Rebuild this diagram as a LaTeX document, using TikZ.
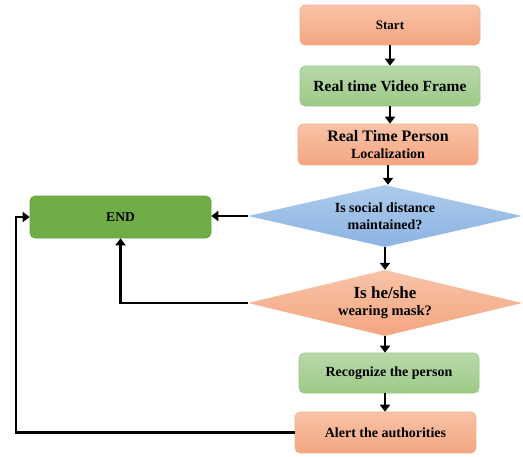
\documentclass[tikz,border=0pt]{standalone}
\usepackage{fontspec}
\setmainfont{Liberation Serif}
\usetikzlibrary{shapes.geometric,arrows.meta,calc}
\definecolor{orT}{HTML}{F8C3A8}
\definecolor{orB}{HTML}{F4A680}
\definecolor{orD}{HTML}{F2AE8C}
\definecolor{grT}{HTML}{B8D8AA}
\definecolor{grB}{HTML}{9DCA86}
\definecolor{grD}{HTML}{9CC985}
\definecolor{blT}{HTML}{AECBEC}
\definecolor{blB}{HTML}{8BB3E2}
\definecolor{endG}{HTML}{70AD47}
\definecolor{endD}{HTML}{62A03C}
\newcommand{\fs}[1]{\fontsize{#1}{17}\selectfont}
\tikzset{
  boxbase/.style={rectangle, rounded corners=5pt, line width=0.6pt, inner sep=0pt, align=center, font=\bfseries\fs{14}},
  orbox/.style={boxbase, draw=orD, top color=orT, bottom color=orB},
  grbox/.style={boxbase, draw=grD, top color=grT, bottom color=grB},
  endbox/.style={boxbase, draw=endD, fill=endG},
  dmd/.style={diamond, aspect=4.4, inner sep=0pt, align=center, font=\bfseries\fs{14}},
  flow/.style={line width=2.4pt, -{Triangle[length=7pt,width=10pt]}}
}
\begin{document}
\begin{tikzpicture}[x=1pt,y=-1pt]
\useasboundingbox (0,0) rectangle (523,456);
\node[orbox, minimum width=180pt, minimum height=40pt] (start) at (390,25) {\fs{13}Start};
\node[grbox, minimum width=180pt, minimum height=40pt] (video) at (390,86) {\fs{15.5}Real time Video Frame};
\node[orbox, minimum width=180pt, minimum height=41pt] (loc) at (388,144.5) {\fs{16}Real Time Person\\\fs{14}Localization};
\node[dmd, top color=blT, bottom color=blB, minimum width=274pt, minimum height=62pt] (d1) at (385,216) {Is social distance\\maintained?};
\node[dmd, top color=orT, bottom color=orB, minimum width=274pt, minimum height=66pt] (d2) at (385,303) {\fs{17}Is he/she\\\fs{14.5}wearing mask?};
\node[endbox, minimum width=181pt, minimum height=42pt] (endn) at (120.5,217) {\fs{13.5}END};
\node[grbox, minimum width=180pt, minimum height=40pt] (rec) at (389,373) {Recognize the person};
\node[orbox, minimum width=181pt, minimum height=41pt] (alert) at (385.5,432.5) {Alert the authorities};
\coordinate (lx) at (16,432);
\draw[flow] (start.south) -- (start.south |- video.north);
\draw[flow] (video.south) -- (video.south |- loc.north);
\draw[flow] (loc.south) -- (loc.south |- d1.north);
\draw[flow] (d1.south) -- (d1.south |- d2.north);
\draw[flow] (d2.south) -- (d2.south |- rec.north);
\draw[flow] ([xshift=-4pt]rec.south) -- ([xshift=-4pt]rec.south |- alert.north);
\draw[flow] (d1.west) -- (d1.west -| endn.east);
\draw[flow] (d2.west) -| (endn.south);
\draw[flow] (alert.west) -- (alert.west -| lx) |- (endn.west);
\end{tikzpicture}
\end{document}
